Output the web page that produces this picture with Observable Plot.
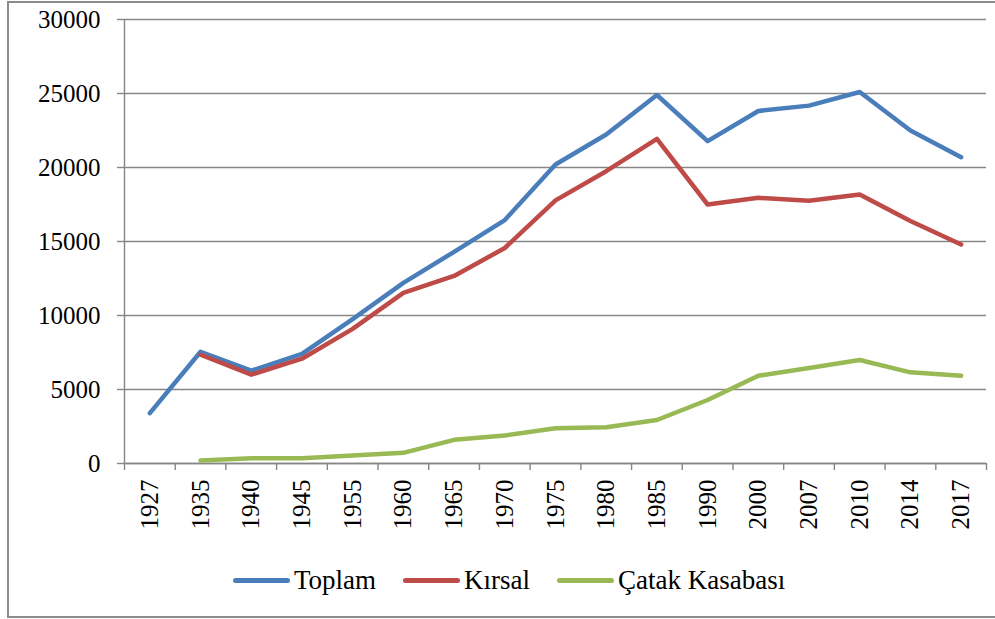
<!DOCTYPE html>
<html><head><meta charset="utf-8">
<script src="https://cdn.jsdelivr.net/npm/d3@7"></script>
<script src="https://cdn.jsdelivr.net/npm/@observablehq/plot@0.6"></script>
<style>
body{margin:0;background:#fff;}
#wrap{position:relative;width:995px;height:619px;overflow:hidden;background:#fff;}
#frame{position:absolute;left:7px;top:1px;width:1000px;height:617px;border:2px solid #8c8c8c;border-right:none;box-sizing:border-box;}
#chart{position:absolute;left:0;top:0;}
#chart svg, #chart svg text{font-family:"Liberation Serif",serif !important;font-size:25px;}
#legend{position:absolute;left:233px;top:565px;display:flex;align-items:center;font-family:"Liberation Serif",serif;font-size:27px;gap:27px;color:#000;}
.item{display:flex;align-items:center;gap:4px;}
.sw{width:57px;height:5px;border-radius:3px;}
</style></head>
<body>
<div id="wrap"><div id="frame"></div><div id="chart"></div><div id="legend"></div></div>
<script>
const years = ["1927","1935","1940","1945","1955","1960","1965","1970","1975","1980","1985","1990","2000","2007","2010","2014","2017"];
const toplam = [3400, 7550, 6270, 7400, 9750, 12200, 14300, 16450, 20200, 22230, 24900, 21780, 23820, 24180, 25100, 22500, 20700];
const kirsal = [null, 7350, 6000, 7080, 9100, 11530, 12670, 14560, 17780, 19750, 21930, 17500, 17950, 17750, 18180, 16380, 14800];
const catak = [null, 200, 360, 360, 540, 720, 1600, 1890, 2380, 2450, 2940, 4290, 5930, 6450, 6990, 6160, 5930];
const seriesNames = ["Toplam", "Kırsal", "Çatak Kasabası"];
const seriesColors = ["#4a7ebb", "#be4b48", "#98b954"];
const yTicks = [0, 5000, 10000, 15000, 20000, 25000, 30000];

const seriesValues = [toplam, kirsal, catak];
const rows = [];
seriesValues.forEach((vals, k) => vals.forEach((v, i) => {
  if (v != null) rows.push({i, v, s: seriesNames[k]});
}));
const bounds = d3.range(years.length + 1).map(d => d - 0.5);
const grey = "#868686";
const serif = "Liberation Serif";

const chart = Plot.plot({
  width: 995, height: 550,
  marginLeft: 124, marginRight: 9, marginTop: 19, marginBottom: 87,
  x: {type: "linear", domain: [-0.5, years.length - 0.5], label: null},
  y: {domain: [0, 30000], label: null},
  color: {domain: seriesNames, range: seriesColors},
  style: {fontFamily: serif, fontSize: "25px", color: "#000", background: "transparent"},
  marks: [
    Plot.gridY(yTicks, {stroke: grey, strokeOpacity: 1, strokeWidth: 1.4}),
    Plot.ruleX([-0.5], {stroke: grey, strokeWidth: 1.4}),
    Plot.ruleY([0], {stroke: grey, strokeWidth: 1.4}),
    Plot.axisY(yTicks, {tickSize: 7, tickPadding: 17, stroke: grey, strokeWidth: 1.4, fill: "#000", fontFamily: serif, fontSize: 25, label: null, tickFormat: d => String(d)}),
    Plot.axisX(bounds, {tickSize: 7, stroke: grey, strokeWidth: 1.4, label: null, tickFormat: () => ""}),
    Plot.axisX(d3.range(years.length), {tickSize: 0, tickRotate: -90, tickPadding: 16, fill: "#000", fontFamily: serif, fontSize: 25, label: null, tickFormat: i => years[i]}),
    Plot.line(rows, {x: "i", y: "v", stroke: "s", z: "s", strokeWidth: 4.5, strokeLinecap: "round", strokeLinejoin: "round"})
  ]
});
document.getElementById("chart").appendChild(chart);

const legend = document.getElementById("legend");
seriesNames.forEach((name, k) => {
  const item = document.createElement("div");
  item.className = "item";
  const sw = document.createElement("div");
  sw.className = "sw";
  sw.style.background = seriesColors[k];
  const t = document.createElement("span");
  t.textContent = name;
  item.appendChild(sw); item.appendChild(t);
  legend.appendChild(item);
});
</script>
</body></html>
